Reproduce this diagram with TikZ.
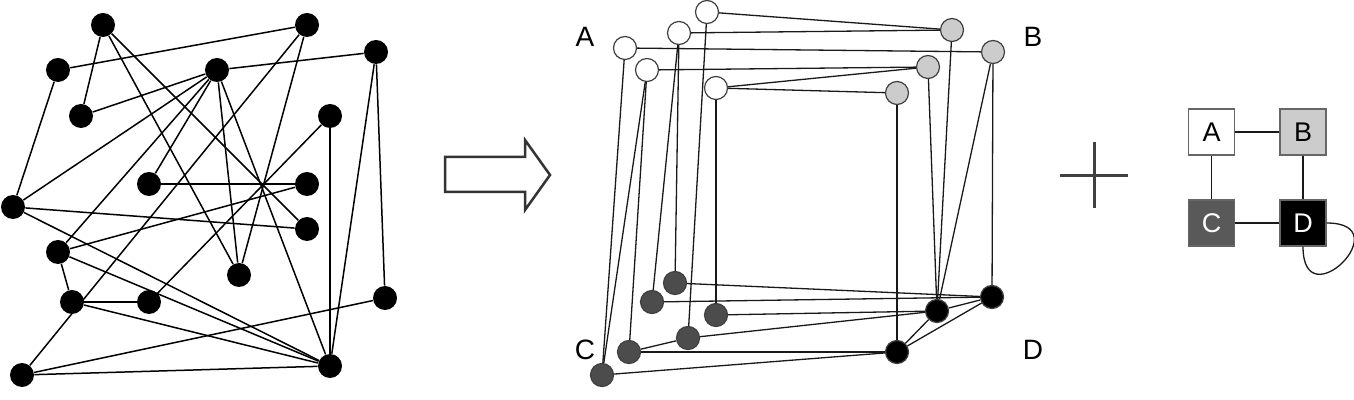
\documentclass[tikz,border=0pt]{standalone}
\usepackage{fontspec}
\setmainfont{Liberation Sans}
\tikzset{
  dot/.style={circle,fill=black,inner sep=0pt,minimum size=12pt},
  vtx/.style={circle,draw=black!75,line width=0.6pt,inner sep=0pt,minimum size=11.5pt},
  edge/.style={black,line width=0.75pt},
  thin edge/.style={black!90,line width=0.65pt},
  tag/.style={font=\fontsize{14}{16}\selectfont,inner sep=0pt},
  sq/.style={rectangle,draw=black!60,line width=0.6pt,minimum size=23pt,inner sep=0pt,
    font=\fontsize{13.5}{16}\selectfont}
}
\begin{document}
\begin{tikzpicture}[x=0.5pt,y=-0.5pt]
  \useasboundingbox (0,0) rectangle (1354,400);
  % random graph
  \foreach \name/\x/\y in {n1/103/25,n2/307/25,n3/58/70,n4/217/70,n5/376/52,
      n6/81/116,n7/330/116,n8/149/184,n9/307/184,n10/13/207,n11/307/229,
      n12/58/252,n13/239/275,n14/72/302,n15/149/302,n16/385/298,
      n17/22/375,n18/330/366}
    \node[dot] (\name) at (\x,\y) {};
  \foreach \a/\b in {n1/n6,n1/n11,n1/n13,n2/n3,n2/n13,n2/n17,n3/n10,
      n4/n5,n4/n6,n4/n8,n4/n10,n4/n12,n4/n13,n4/n18,n5/n16,n5/n18,
      n7/n15,n7/n18,n8/n9,n9/n12,n10/n11,n10/n18,n12/n14,n12/n18,
      n14/n15,n14/n18,n16/n17,n17/n18}
    \draw[edge] (\a) -- (\b);
  % block arrow
  \draw[black!80,line width=1.25pt,line join=miter]
    (445,157) -- (525,157) -- (525,140) -- (550,175) -- (525,210)
    -- (525,192) -- (445,192) -- cycle;
  % grouped graph
  \foreach \name/\x/\y in {a1/707/12,a2/679/33,a3/625/48,a4/647/70,a5/716/88}
    \node[vtx,fill=white] (\name) at (\x,\y) {};
  \foreach \name/\x/\y in {b1/952/30,b2/993/52,b3/928/67,b4/897/93}
    \node[vtx,fill=black!20] (\name) at (\x,\y) {};
  \foreach \name/\x/\y in {c1/675/283,c2/652/302,c3/716/315,c4/688/338,
      c5/629/352,c6/602/375}
    \node[vtx,fill=black!70] (\name) at (\x,\y) {};
  \foreach \name/\x/\y in {d1/992/297,d2/937/311,d3/897/352}
    \node[vtx,fill=black] (\name) at (\x,\y) {};
  \foreach \a/\b in {a1/b1,a2/b1,a3/b2,a4/b3,a5/b3,a5/b4,
      a1/c4,a2/c1,a2/c2,a3/c6,a4/c5,a4/c6,a5/c3,
      b1/d2,b2/d1,b2/d2,b3/d2,b4/d3,
      c1/d1,c2/d1,c3/d2,c4/d2,c5/d3,c6/d3,c4/c5,
      d1/d2,d1/d3,d2/d3}
    \draw[thin edge] (\a) -- (\b);
  \node[tag] (la) at (585,37) {A};
  \node[tag] (lb) at (1033,37) {B};
  \node[tag] (lc) at (585,350) {C};
  \node[tag] (ld) at (1033,350) {D};
  % plus sign
  \draw[black!75,line width=1.5pt] (1060,176) -- (1128,176) (1094,142) -- (1094,208);
  % quotient graph
  \node[sq,fill=white] (A) at (1211.5,132) {A};
  \node[sq,fill=black!20] (B) at (1303,132) {B};
  \node[sq,fill=black!65,text=white] (C) at (1211.5,223) {C};
  \node[sq,fill=black,text=white] (D) at (1303,223) {D};
  \draw[thin edge] (A) -- (B);
  \draw[thin edge] (A) -- (C);
  \draw[thin edge] (B) -- (D);
  \draw[thin edge] (C) -- (D);
  \draw[thin edge] (D.east) .. controls +(74,0) and +(0,74) .. (D.south);
\end{tikzpicture}
\end{document}
